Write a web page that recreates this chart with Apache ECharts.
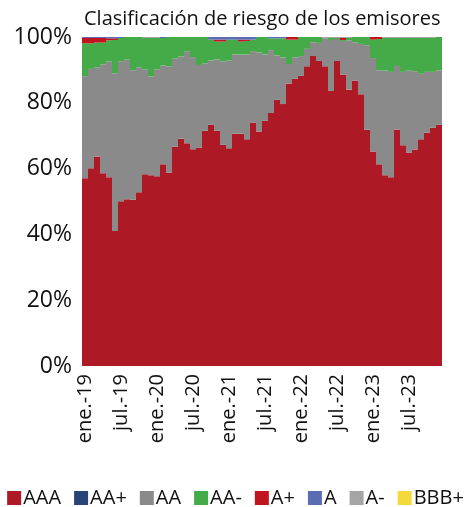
<!DOCTYPE html>
<html>
<head>
<meta charset="utf-8">
<script src="https://cdn.jsdelivr.net/npm/echarts@6/dist/echarts.min.js"></script>
<style>
html,body{margin:0;padding:0;background:#fff;}
#chart{width:471px;height:507px;}
</style>
</head>
<body>
<div id="chart"></div>
<script>
const monthNames = ['ene.','feb.','mar.','abr.','may.','jun.','jul.','ago.','sept.','oct.','nov.','dic.'];
const years = ['19','20','21','22','23'];
const categories = [];
years.forEach(y => monthNames.forEach(m => categories.push(m + '-' + y)));

const seriesNames = ['AAA','AA+','AA','AA-','A+','A','A-','BBB+'];

const AAA = [57.1,60.1,63.7,58.6,57.4,41.0,50.1,50.7,50.5,52.8,
  58.3,58.0,57.7,61.3,58.8,66.6,69.1,67.7,65.9,66.4,
  71.5,73.3,71.5,67.2,66.2,70.6,70.6,68.9,74.0,71.3,
  74.5,76.9,80.9,79.6,85.9,87.3,88.2,91.1,94.2,92.7,
  91.1,83.6,92.7,88.6,84.0,86.8,82.6,71.8,65.2,61.3,
  58.0,57.4,71.9,67.1,64.9,65.8,68.9,70.9,72.4,73.3];
const AAplus = [0,0,0,0,0,0,0,0,0,0, 0,0,0,0,0,0,0,0,0,0,
  0,0,0,0,0,0,0,0,0,0, 0,0,0,0,0,0,0,0,0,0,
  0,0,0,0,0,0,0,0,0,0, 0,0,0,0,0,0,0,0,0,0];
const AA = [31.0,30.2,27.1,33.1,35.2,48.0,42.5,42.4,39.4,38.0,
  31.9,30.0,32.5,30.0,32.3,26.8,25.0,28.0,28.0,25.1,
  20.5,19.6,21.7,25.4,26.6,24.1,24.1,25.8,21.7,24.0,
  20.2,19.1,13.5,14.2,5.9,6.5,6.0,5.3,4.2,5.5,
  8.5,15.5,6.7,10.2,15.0,11.6,15.3,25.7,28.4,28.6,
  31.8,32.0,19.3,22.3,25.0,23.8,19.9,18.5,17.0,16.6];
const AAminus = [10.0,7.8,7.5,6.6,6.4,10.1,7.1,6.9,10.1,9.2,
  9.5,11.7,9.5,8.4,8.9,6.6,5.9,4.3,6.1,8.5,
  8.0,6.3,5.4,6.0,6.4,4.5,3.9,4.1,3.5,4.7,
  5.3,3.6,5.2,5.8,7.4,5.4,5.8,3.6,1.6,1.8,
  0.1,0.6,0.3,0.3,0.7,1.6,2.1,2.5,5.6,9.5,
  9.9,10.3,8.5,10.3,9.8,10.1,10.9,10.3,10.3,10.1];
const Aplus = [1.6,1.6,1.4,1.4,0.6,0.5,0,0,0,0,
  0,0,0,0,0,0,0,0,0,0,
  0,0,0.6,0.6,0,0,0.6,0.4,0,0,
  0,0,0,0,0.8,0.8,0,0,0,0,
  0,0,0,0.6,0,0,0,0,0.8,0.6,
  0,0,0,0,0,0,0,0,0,0];
const A = [0.3,0.3,0.3,0.3,0.4,0.4,0.3,0,0,0,
  0,0,0,0.3,0,0,0,0,0,0,
  0,0.8,0.8,0.8,0.8,0.8,0.8,0.8,0.8,0,
  0,0.4,0.4,0.4,0,0,0,0,0,0,
  0,0,0,0,0,0,0,0,0,0,
  0,0,0,0,0,0,0,0,0,0];
const Aminus = [0,0,0,0,0,0,0,0,0,0,
  0.3,0.3,0.3,0,0,0,0,0,0,0,
  0,0,0,0,0,0,0,0,0,0,
  0,0,0,0,0,0,0,0,0,0,
  0.3,0.3,0.3,0.3,0.3,0,0,0,0,0,
  0.3,0.3,0.3,0.3,0.3,0.3,0.3,0.3,0.3,0];
const BBBplus = [0,0,0,0,0,0,0,0,0,0, 0,0,0,0,0,0,0,0,0,0,
  0,0,0,0,0,0,0,0,0,0, 0,0,0,0,0,0,0,0,0,0,
  0,0,0,0,0,0,0,0,0,0, 0,0,0,0,0,0,0,0,0,0];

const yTicks = [0,20,40,60,80,100];

const values = [AAA, AAplus, AA, AAminus, Aplus, A, Aminus, BBBplus];
const colors = ['#ad1a26','#264478','#8a8a8a','#45ab48','#c0141f','#5a6db3','#a5a5a5','#f5d93a'];

const chart = echarts.init(document.getElementById('chart'), null, {renderer:'canvas'});
const FONT = 'Open Sans';
chart.setOption({
  animation:false,
  backgroundColor:'#fff',
  textStyle:{fontFamily:FONT},
  title:{
    text:'Clasificación de riesgo de los emisores',
    left:79, top:4,
    textStyle:{fontFamily:FONT,fontSize:20,fontWeight:'normal',color:'#111'}
  },
  legend:{
    bottom:-1, left:'center', padding:0,
    itemWidth:14, itemHeight:14, itemGap:13,
    icon:'rect',
    data:seriesNames,
    textStyle:{fontFamily:FONT,fontSize:20,color:'#111',padding:[0,0,0,-3]}
  },
  grid:{left:82, right:29, top:37, bottom:141, containLabel:false},
  xAxis:{
    type:'category',
    data:categories,
    boundaryGap:true,
    axisLine:{show:false},
    axisTick:{show:false},
    splitLine:{show:false},
    axisLabel:{
      interval:5,
      rotate:90,
      margin:8,
      fontFamily:FONT,fontSize:20,color:'#111'
    }
  },
  yAxis:{
    type:'value',
    min:yTicks[0], max:yTicks[yTicks.length-1], interval:20,
    axisLine:{show:false},
    axisTick:{show:false},
    splitLine:{show:false},
    axisLabel:{formatter:'{value}%',fontFamily:FONT,fontSize:23,color:'#111',margin:10}
  },
  series: seriesNames.map((n,i)=>({
    name:n,
    type:'bar',
    stack:'total',
    barCategoryGap:'0%',
    data:values[i],
    itemStyle:{color:colors[i]},
    emphasis:{disabled:true}
  }))
});
</script>
</body>
</html>
